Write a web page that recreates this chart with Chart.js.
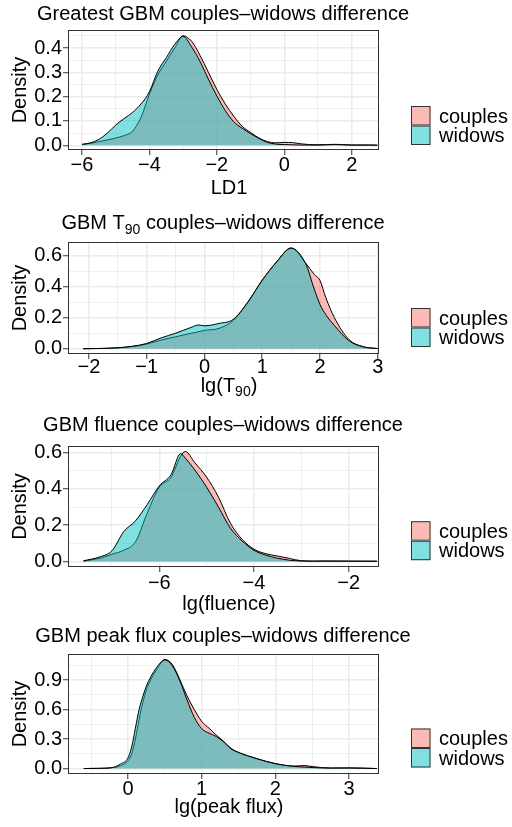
<!DOCTYPE html>
<html>
<head>
<meta charset="utf-8">
<script src="https://cdn.jsdelivr.net/npm/chart.js@4.4.1/dist/chart.umd.min.js"></script>
<style>
  html, body { margin: 0; padding: 0; background: #fff; }
  #wrap { position: relative; width: 512px; height: 827px; overflow: hidden; }
  canvas { position: absolute; left: 0; }
</style>
</head>
<body>
<div id="wrap">
  <canvas id="c1" width="512" height="206" style="top:0px"></canvas>
  <canvas id="c2" width="512" height="212" style="top:200px"></canvas>
  <canvas id="c3" width="512" height="212" style="top:410px"></canvas>
  <canvas id="c4" width="512" height="212" style="top:615px"></canvas>
</div>
<script>
// ---- data ----
const seriesNames = ['couples', 'widows'];

// panel 1: LD1
const ld1X = [-6, -5.75, -5.5, -5.25, -5, -4.75, -4.5, -4.25, -4, -3.75, -3.5, -3.25, -3, -2.75, -2.5, -2.25, -2, -1.75, -1.5, -1.25, -1, -0.75, -0.5, -0.25, 0, 0.25, 0.5, 0.75, 1, 1.25, 1.5, 1.75, 2, 2.25, 2.5, 2.76];
const ld1Couples = [0.003, 0.008, 0.015, 0.022, 0.03, 0.04, 0.058, 0.115, 0.21, 0.29, 0.345, 0.40, 0.45, 0.428, 0.37, 0.30, 0.23, 0.17, 0.12, 0.078, 0.053, 0.03, 0.015, 0.01, 0.012, 0.011, 0.006, 0.003, 0.002, 0.003, 0.004, 0.003, 0.001, 0.001, 0.001, 0.0005];
const ld1Widows = [0.004, 0.01, 0.024, 0.05, 0.083, 0.11, 0.135, 0.17, 0.22, 0.305, 0.36, 0.415, 0.448, 0.405, 0.345, 0.272, 0.203, 0.143, 0.097, 0.07, 0.048, 0.028, 0.012, 0.005, 0.003, 0.002, 0.001, 0.001, 0.001, 0.002, 0.003, 0.002, 0.001, 0.001, 0.001, 0.0005];
const ld1XTicks = [-6, -4, -2, 0, 2];
const ld1XMinor = [-5, -3, -1, 1];
const ld1YTicks = [0, 0.1, 0.2, 0.3, 0.4];
const ld1YMinor = [0.05, 0.15, 0.25, 0.35, 0.45];

// panel 2: lg(T90)
const t90X = [-2.1, -1.75, -1.5, -1.25, -1, -0.75, -0.5, -0.25, -0.1, 0, 0.25, 0.5, 0.75, 1, 1.25, 1.5, 1.75, 1.9, 2, 2.1, 2.25, 2.5, 2.75, 3];
const t90Couples = [0, 0.002, 0.006, 0.014, 0.03, 0.056, 0.077, 0.098, 0.11, 0.118, 0.131, 0.183, 0.30, 0.44, 0.56, 0.65, 0.552, 0.48, 0.44, 0.33, 0.2, 0.06, 0.013, 0.001];
const t90Widows = [0, 0.002, 0.006, 0.016, 0.034, 0.07, 0.10, 0.135, 0.153, 0.148, 0.163, 0.19, 0.30, 0.443, 0.56, 0.648, 0.55, 0.385, 0.285, 0.22, 0.15, 0.052, 0.012, 0.001];
const t90XTicks = [-2, -1, 0, 1, 2, 3];
const t90XMinor = [-1.5, -0.5, 0.5, 1.5, 2.5];
const t90YTicks = [0, 0.2, 0.4, 0.6];
const t90YMinor = [0.1, 0.3, 0.5];

// panel 3: lg(fluence)
const fluX = [-7.6, -7.25, -7, -6.75, -6.5, -6.25, -6, -5.75, -5.55, -5.45, -5.25, -5, -4.75, -4.5, -4.25, -4, -3.75, -3.5, -3.25, -3, -2.75, -2.5, -2, -1.4];
const fluCouples = [0.002, 0.018, 0.04, 0.062, 0.11, 0.27, 0.41, 0.465, 0.58, 0.607, 0.545, 0.465, 0.355, 0.212, 0.122, 0.068, 0.043, 0.03, 0.017, 0.004, 0.002, 0.003, 0.002, 0.002];
const fluWidows = [0.004, 0.026, 0.059, 0.165, 0.225, 0.316, 0.417, 0.48, 0.595, 0.57, 0.505, 0.41, 0.30, 0.185, 0.113, 0.062, 0.035, 0.018, 0.007, 0.003, 0.002, 0.002, 0.002, 0.001];
const fluXTicks = [-6, -4, -2];
const fluXMinor = [-7, -5, -3];
const fluYTicks = [0, 0.2, 0.4, 0.6];
const fluYMinor = [0.1, 0.3, 0.5];

// panel 4: lg(peak flux)
const pfX = [-0.6, -0.4, -0.2, -0.1, 0, 0.05, 0.1, 0.15, 0.2, 0.25, 0.3, 0.4, 0.5, 0.6, 0.7, 0.8, 0.9, 1, 1.1, 1.2, 1.3, 1.4, 1.5, 1.75, 2, 2.25, 2.4, 2.5, 2.75, 3, 3.38];
const pfCouples = [0, 0.002, 0.01, 0.03, 0.08, 0.15, 0.3, 0.5, 0.67, 0.8, 0.89, 1.02, 1.11, 1.06, 0.91, 0.74, 0.6, 0.48, 0.41, 0.34, 0.275, 0.205, 0.162, 0.1, 0.05, 0.025, 0.03, 0.02, 0.005, 0.006, 0];
const pfWidows = [0, 0.002, 0.012, 0.047, 0.108, 0.22, 0.41, 0.6, 0.73, 0.84, 0.92, 1.04, 1.105, 1.045, 0.9, 0.70, 0.52, 0.405, 0.36, 0.325, 0.27, 0.2, 0.165, 0.1, 0.05, 0.022, 0.015, 0.01, 0.005, 0.006, 0];
const pfXTicks = [0, 1, 2, 3];
const pfXMinor = [-0.5, 0.5, 1.5, 2.5];
const pfYTicks = [0, 0.3, 0.6, 0.9];
const pfYMinor = [0.15, 0.45, 0.75, 1.05];

// ---- styling ----
const FONT = "'Liberation Sans', Arial, Helvetica, sans-serif";
const FILLS = ['rgba(248,118,109,0.5)', 'rgba(0,191,196,0.5)'];
Chart.defaults.font.family = FONT;
Chart.defaults.color = '#000';

function minus(v) { return v < 0 ? '\u2212' + Math.abs(v) : String(v); }

function tickList(major, minor) {
  const t = major.map(v => ({ value: v, minor: false }))
    .concat(minor.map(v => ({ value: v, minor: true })));
  return t.sort((a, b) => a.value - b.value);
}

// rich text with optional subscript pieces
function drawRich(ctx, segs, cx, base, size) {
  let w = 0;
  const parts = segs.map(s => {
    const f = (s.sub ? Math.round(size * 0.72) : size) + 'px ' + FONT;
    ctx.font = f;
    const pw = ctx.measureText(s.t).width;
    w += pw;
    return { t: s.t, sub: s.sub, f: f, w: pw };
  });
  let x = cx - w / 2;
  ctx.textAlign = 'left';
  ctx.textBaseline = 'alphabetic';
  parts.forEach(p => {
    ctx.font = p.f;
    ctx.fillText(p.t, x, base + (p.sub ? size * 0.22 : 0));
    x += p.w;
  });
}

const decoPlugin = {
  id: 'deco',
  afterDatasetsDraw(chart, args, o) {
    const { ctx, chartArea: a } = chart;
    ctx.save();
    ctx.strokeStyle = '#333333';
    ctx.lineWidth = 1;
    ctx.strokeRect(a.left + 0.5, a.top + 0.5, a.right - a.left - 1, a.bottom - a.top - 1);
    ctx.restore();
  },
  afterDraw(chart, args, o) {
    const { ctx, chartArea: a } = chart;
    ctx.save();
    ctx.fillStyle = '#000';
    drawRich(ctx, o.title, 223, o.titleBase, 20);
    drawRich(ctx, o.xTitle, 229, a.bottom + o.xTitleOff, 20);
    // legend
    const box = 19.5, lx = 411;
    const y0 = o.legendMid - box;
    chart.data.datasets.forEach((ds, i) => {
      const y = y0 + i * box;
      ctx.fillStyle = '#fff';
      ctx.fillRect(lx, y, box, box);
      ctx.fillStyle = ds.backgroundColor;
      ctx.fillRect(lx, y, box, box);
      ctx.strokeStyle = '#333';
      ctx.lineWidth = 1;
      ctx.strokeRect(lx + 0.5, y + 0.5, box - 1, box - 1);
      ctx.fillStyle = '#000';
      ctx.font = '20px ' + FONT;
      ctx.textAlign = 'left';
      ctx.textBaseline = 'alphabetic';
      ctx.fillText(ds.label, 439, y + box / 2 + 7);
    });
    ctx.restore();
  }
};

function makePanel(id, p) {
  const canvas = document.getElementById(id);
  const H = canvas.height;
  const sets = [p.couples, p.widows].map((vals, i) => ({
    label: seriesNames[i],
    data: p.x.map((x, k) => ({ x: x, y: vals[k] })),
    backgroundColor: FILLS[i],
    borderColor: '#000',
    borderWidth: 1,
    fill: 'origin',
    pointRadius: 0,
    cubicInterpolationMode: 'monotone',
    order: 2 - i
  }));
  const gridW = c => (c.tick && c.tick.minor ? 0.8 : 1.5);
  const tickC = c => (c.tick && c.tick.minor ? 'rgba(0,0,0,0)' : '#333333');
  return new Chart(canvas, {
    type: 'line',
    data: { datasets: sets },
    plugins: [decoPlugin],
    options: {
      responsive: false,
      animation: false,
      devicePixelRatio: 1,
      layout: { padding: { top: p.top, right: 133, left: 0, bottom: 0 } },
      plugins: {
        legend: { display: false },
        title: { display: false },
        tooltip: { enabled: false },
        deco: { title: p.title, xTitle: p.xTitle, titleBase: p.titleBase, xTitleOff: p.xTitleOff, legendMid: p.legendMid }
      },
      scales: {
        x: {
          type: 'linear',
          min: p.xMin, max: p.xMax,
          afterBuildTicks: s => { s.ticks = tickList(p.xTicks, p.xMinor); },
          afterFit: s => { s.height = H - p.bottom; },
          border: { display: false },
          grid: { color: '#EBEBEB', lineWidth: gridW, tickLength: 5, tickColor: tickC, tickWidth: 1 },
          ticks: {
            autoSkip: false, maxRotation: 0, padding: p.tickPad,
            font: { size: 20, lineHeight: 1 }, color: '#000',
            callback: (v, i, t) => (t[i].minor ? '' : minus(v))
          }
        },
        y: {
          min: p.yMin, max: p.yMax,
          afterBuildTicks: s => { s.ticks = tickList(p.yTicks, p.yMinor); },
          afterFit: s => { s.width = 68; },
          border: { display: false },
          title: { display: true, text: 'Density', color: '#000', font: { size: 20 }, padding: { top: 8, bottom: 0 } },
          grid: { color: '#EBEBEB', lineWidth: gridW, tickLength: 5, tickColor: tickC, tickWidth: 1 },
          ticks: {
            autoSkip: false, padding: 1,
            font: { size: 20, lineHeight: 1 }, color: '#000',
            callback: (v, i, t) => (t[i].minor ? '' : v.toFixed(1))
          }
        }
      }
    }
  });
}

makePanel('c1', {
  x: ld1X, couples: ld1Couples, widows: ld1Widows,
  xTicks: ld1XTicks, xMinor: ld1XMinor, yTicks: ld1YTicks, yMinor: ld1YMinor,
  xMin: -6.415, xMax: 2.81, yMin: -0.0193, yMax: 0.474,
  top: 30, bottom: 150, titleBase: 20, xTitleOff: 44, tickPad: 0, legendMid: 125.5,
  title: [{ t: 'Greatest GBM couples\u2013widows difference' }],
  xTitle: [{ t: 'LD1' }]
});
makePanel('c2', {
  x: t90X, couples: t90Couples, widows: t90Widows,
  xTicks: t90XTicks, xMinor: t90XMinor, yTicks: t90YTicks, yMinor: t90YMinor,
  xMin: -2.364, xMax: 3.022, yMin: -0.034, yMax: 0.688,
  top: 42, bottom: 154, titleBase: 29.3, xTitleOff: 38, tickPad: -2, legendMid: 127.5,
  title: [{ t: 'GBM T' }, { t: '90', sub: true }, { t: ' couples\u2013widows difference' }],
  xTitle: [{ t: 'lg(T' }, { t: '90', sub: true }, { t: ')' }]
});
makePanel('c3', {
  x: fluX, couples: fluCouples, widows: fluWidows,
  xTicks: fluXTicks, xMinor: fluXMinor, yTicks: fluYTicks, yMinor: fluYMinor,
  xMin: -7.928, xMax: -1.36, yMin: -0.0303, yMax: 0.637,
  top: 36, bottom: 157, titleBase: 20.7, xTitleOff: 43, tickPad: 1, legendMid: 130.7,
  title: [{ t: 'GBM fluence couples\u2013widows difference' }],
  xTitle: [{ t: 'lg(fluence)' }]
});
makePanel('c4', {
  x: pfX, couples: pfCouples, widows: pfWidows,
  xTicks: pfXTicks, xMinor: pfXMinor, yTicks: pfYTicks, yMinor: pfYMinor,
  xMin: -0.8146, xMax: 3.407, yMin: -0.0555, yMax: 1.165,
  top: 39, bottom: 159, titleBase: 27.3, xTitleOff: 39, tickPad: 0, legendMid: 133,
  title: [{ t: 'GBM peak flux couples\u2013widows difference' }],
  xTitle: [{ t: 'lg(peak flux)' }]
});
</script>
</body>
</html>
